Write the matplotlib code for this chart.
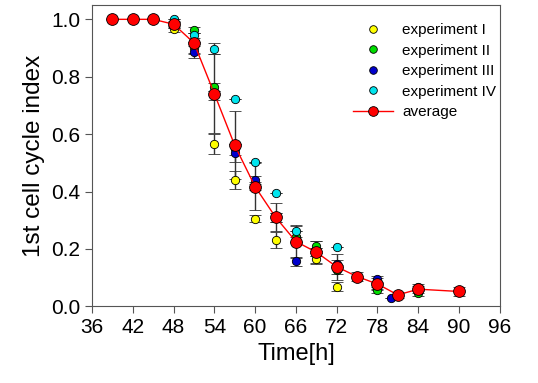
import numpy as np
import matplotlib.pyplot as plt
from matplotlib.lines import Line2D

plt.rcParams['font.family'] = ['Liberation Sans', 'DejaVu Sans']

# experiment I (yellow)
t1 = [48, 51, 54, 57, 60, 63, 66, 69, 72, 78]
y1 = [0.967, 0.90, 0.567, 0.439, 0.306, 0.232, 0.243, 0.166, 0.069, 0.07]
e1 = [0.01, 0.02, 0.035, 0.031, 0.012, 0.027, 0.02, 0.02, 0.015, 0.01]

# experiment II (green)
t2 = [48, 51, 54, 57, 60, 63, 66, 69, 72, 78, 84]
y2 = [0.98, 0.962, 0.764, 0.547, 0.419, 0.31, 0.243, 0.21, 0.128, 0.058, 0.045]
e2 = [0.01, 0.01, 0.015, 0.02, 0.015, 0.015, 0.02, 0.018, 0.015, 0.01, 0.01]

# experiment III (blue)
t3 = [48, 51, 54, 57, 60, 63, 66, 69, 72, 78, 80]
y3 = [0.98, 0.886, 0.735, 0.534, 0.44, 0.31, 0.157, 0.19, 0.148, 0.095, 0.03]
e3 = [0.01, 0.02, 0.015, 0.031, 0.015, 0.015, 0.015, 0.015, 0.012, 0.01, 0.0]

# experiment IV (cyan)
t4 = [48, 51, 54, 57, 60, 63, 66, 69, 72, 84]
y4 = [1.0, 0.944, 0.898, 0.724, 0.503, 0.396, 0.261, 0.19, 0.207, 0.067]
e4 = [0.0, 0.01, 0.02, 0.0, 0.0, 0.0, 0.02, 0.015, 0.0, 0.01]

# average
ta = [39, 42, 45, 48, 51, 54, 57, 60, 63, 66, 69, 72, 75, 78, 81, 84, 90]
ya = [1.0, 1.0, 1.0, 0.983, 0.918, 0.741, 0.561, 0.417, 0.311, 0.226, 0.189,
      0.138, 0.104, 0.078, 0.04, 0.06, 0.052]
ea = [0.0, 0.0, 0.0, 0.01, 0.035, 0.137, 0.118, 0.082, 0.05, 0.056, 0.039,
      0.045, 0.017, 0.02, 0.01, 0.012, 0.015]

fig, ax = plt.subplots(figsize=(5.38, 3.83), dpi=100)
fig.subplots_adjust(left=0.171, right=0.929, bottom=0.20, top=0.987)

ebc = '#333333'
exps = [(t1, y1, e1, '#ffff00', 'experiment I'),
        (t2, y2, e2, '#00dd00', 'experiment II'),
        (t3, y3, e3, '#0000cc', 'experiment III'),
        (t4, y4, e4, '#00e5ee', 'experiment IV')]

handles = []
for t, y, e, c, lab in exps:
    ax.errorbar(t, y, yerr=e, fmt='o', ms=6, mfc=c, mec='black', mew=0.6,
                ecolor=ebc, elinewidth=1, capsize=4, capthick=1)
    handles.append(Line2D([], [], ls='none', marker='o', ms=5.5, mfc=c,
                          mec='black', mew=0.6, label=lab))

ax.errorbar(ta, ya, yerr=ea, fmt='-o', color='red', lw=1, ms=8.5, mfc='red',
            mec='black', mew=0.6, ecolor=ebc, elinewidth=1, capsize=4,
            capthick=1)
handles.append(Line2D([], [], color='red', lw=1, marker='o', ms=7, mfc='red',
                      mec='black', mew=0.6, label='average'))

ax.set_xlim(36, 96)
ax.set_ylim(0, 1.05)
ax.set_xticks(np.arange(36, 97, 6))
ax.set_yticks(np.arange(0, 1.01, 0.2))
ax.set_yticklabels([f'{v:.1f}' for v in np.arange(0, 1.01, 0.2)])
ax.tick_params(direction='out', labelsize=15, length=5, color='#555555')
for s in ax.spines.values():
    s.set_color('#555555')

ax.set_xlabel('Time[h]', fontsize=17)
ax.set_ylabel('1st cell cycle index', fontsize=17.5)

ax.legend(handles=handles, loc='upper right', bbox_to_anchor=(1.025, 0.985),
          frameon=False, fontsize=11, handlelength=2.6, handletextpad=0.6,
          labelspacing=0.42)

fig.savefig('out.png', dpi=100)
